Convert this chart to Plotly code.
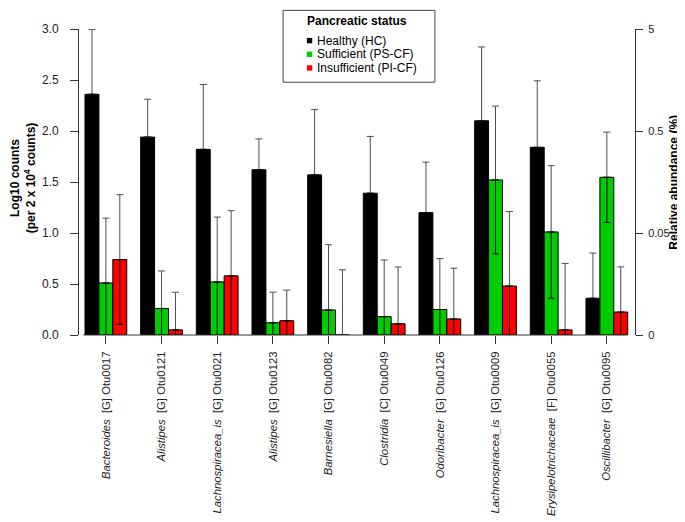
import plotly.graph_objects as go

# ---------------- data ----------------
taxa = ["Bacteroides", "Alistipes", "Lachnospiracea_is", "Alistipes", "Barnesiella",
        "Clostridia", "Odoribacter", "Lachnospiracea_is", "Erysipelotrichaceae", "Oscillibacter"]
ranks = ["G", "G", "G", "G", "G", "C", "G", "G", "F", "G"]
otu_ids = ["Otu0017", "Otu0121", "Otu0021", "Otu0123", "Otu0082",
           "Otu0049", "Otu0126", "Otu0009", "Otu0055", "Otu0095"]

healthy = [2.36, 1.94, 1.82, 1.62, 1.57, 1.39, 1.20, 2.10, 1.84, 0.36]
sufficient = [0.51, 0.26, 0.52, 0.12, 0.245, 0.18, 0.25, 1.52, 1.01, 1.546]
insufficient = [0.74, 0.05, 0.58, 0.14, 0.0, 0.11, 0.157, 0.48, 0.05, 0.225]

err_healthy = [0.636, 0.372, 0.636, 0.303, 0.64, 0.557, 0.495, 0.724, 0.652, 0.443]
err_sufficient = [0.636, 0.368, 0.636, 0.300, 0.64, 0.555, 0.499, 0.724, 0.650, 0.443]
err_insufficient = [0.636, 0.369, 0.639, 0.300, 0.639, 0.557, 0.498, 0.730, 0.652, 0.443]

series_names = ["Healthy (HC)", "Sufficient (PS-CF)", "Insufficient (PI-CF)"]
series_colors = ["#000000", "#00CD00", "#FF0000"]

left_ticks = [0.0, 0.5, 1.0, 1.5, 2.0, 2.5, 3.0]
right_tick_pos = [0, 1, 2, 3]
right_tick_labels = ["0", "0.05", "0.5", "5"]

group_index = list(range(len(otu_ids)))
tick_labels = [f"<i>{t}</i>\u00a0 [{r}] {o}" for t, r, o in zip(taxa, ranks, otu_ids)]

# ---------------- geometry helpers ----------------
W, H = 685, 522
L, R, T, B = 70.7, 627.3, 20.67, 327.33
BAR_W = 0.25
OFFSETS = [-BAR_W, 0.0, BAR_W]


def pxx(p):
    return (p - L) / (R - L)


def pxy(p):
    return (B - p) / (B - T)


FONT = "Liberation Sans, Arial, Helvetica, sans-serif"
ERR_UP_COLOR = "#4d4d4d"
ERR_DOWN_COLOR = "#000000"
AXIS_COLOR = "#333333"

fig = go.Figure()
for vals, errs, name, col, off in zip([healthy, sufficient, insufficient],
                                      [err_healthy, err_sufficient, err_insufficient],
                                      series_names, series_colors, OFFSETS):
    xs = [i + off for i in group_index]
    fig.add_trace(go.Bar(
        x=xs, y=vals, name=name, width=BAR_W,
        marker=dict(color=col, line=dict(color="#000000", width=1)),
        error_y=dict(type="data", symmetric=False, array=errs, arrayminus=[0] * len(errs),
                     visible=True, color=ERR_UP_COLOR, thickness=1, width=3.5),
        showlegend=False, cliponaxis=True,
    ))
    # lower half of the error bar (drawn over the bar itself)
    fig.add_trace(go.Scatter(
        x=xs, y=vals, mode="markers", marker=dict(opacity=0, size=1),
        error_y=dict(type="data", symmetric=False, array=[0] * len(errs), arrayminus=errs,
                     visible=True, color=ERR_DOWN_COLOR, thickness=1, width=3.5),
        showlegend=False, hoverinfo="skip", cliponaxis=True,
    ))

# invisible trace to anchor right axis
fig.add_trace(go.Scatter(x=[0], y=[0], yaxis="y2", mode="markers",
                         marker=dict(opacity=0), showlegend=False, hoverinfo="skip"))

shapes = []
annotations = []

# baseline under bars
shapes.append(dict(type="line", xref="x", yref="paper", x0=-0.405, x1=9.375, y0=0, y1=0,
                   line=dict(color=AXIS_COLOR, width=1), layer="above"))

# legend box
shapes.append(dict(type="rect", xref="paper", yref="paper",
                   x0=pxx(275), x1=pxx(427), y0=pxy(74), y1=pxy(2),
                   line=dict(color="#444444", width=1), fillcolor="white", layer="above"))
annotations.append(dict(xref="paper", yref="paper", x=pxx(349), y=pxy(12.7),
                        text="<b>Pancreatic status</b>", showarrow=False,
                        xanchor="center", yanchor="middle",
                        font=dict(family=FONT, size=12, color="#000000")))
item_y = [32.3, 46.0, 59.7]
for yy, name, col in zip(item_y, series_names, series_colors):
    shapes.append(dict(type="rect", xref="paper", yref="paper",
                       x0=pxx(298.8), x1=pxx(304.2), y0=pxy(yy + 2.7), y1=pxy(yy - 2.7),
                       line=dict(width=0), fillcolor=col, layer="above"))
    annotations.append(dict(xref="paper", yref="paper", x=pxx(307), y=pxy(yy),
                            text=name, showarrow=False, xanchor="left", yanchor="middle",
                            font=dict(family=FONT, size=12, color="#000000")))

# axis titles
annotations.append(dict(xref="paper", yref="paper", x=pxx(15), y=pxy(170),
                        text="<b>Log10 counts</b><br><b>(per 2 x 10<sup>4</sup> counts)</b>",
                        textangle=-90, showarrow=False, xanchor="center", yanchor="middle",
                        font=dict(family=FONT, size=12, color="#000000")))
annotations.append(dict(xref="paper", yref="paper", x=pxx(666), y=pxy(174),
                        text="<b>Relative abundance (%)</b>",
                        textangle=-90, showarrow=False, xanchor="center", yanchor="middle",
                        font=dict(family=FONT, size=12, color="#000000")))

fig.update_layout(
    width=W, height=H,
    margin=dict(l=L, r=W - R, t=T, b=H - B, pad=0, autoexpand=False),
    paper_bgcolor="white", plot_bgcolor="white",
    barmode="overlay",
    font=dict(family=FONT, size=12, color="#222222"),
    showlegend=False,
    xaxis=dict(range=[-0.483, 9.506], tickmode="array", tickvals=group_index, ticktext=tick_labels,
               tickangle=-90, ticks="outside", ticklen=8, tickcolor=AXIS_COLOR, tickwidth=1,
               showline=False, showgrid=False, zeroline=False, automargin=False,
               ticklabelstandoff=3, tickfont=dict(family=FONT, size=11.3, color="#222222")),
    yaxis=dict(range=[0, 3.0], tickmode="array", tickvals=left_ticks,
               ticktext=[f"{v:.1f}" for v in left_ticks],
               ticks="outside", ticklen=8, tickcolor=AXIS_COLOR, tickwidth=1,
               showline=True, linecolor=AXIS_COLOR, linewidth=1,
               showgrid=False, zeroline=False, automargin=False, ticklabelstandoff=9,
               tickfont=dict(family=FONT, size=12, color="#222222")),
    yaxis2=dict(overlaying="y", side="right", range=[0, 3.0], tickmode="array",
                tickvals=right_tick_pos, ticktext=right_tick_labels,
                ticks="outside", ticklen=7, tickcolor=AXIS_COLOR, tickwidth=1,
                showline=True, linecolor=AXIS_COLOR, linewidth=1,
                showgrid=False, zeroline=False, automargin=False, ticklabelstandoff=3,
                tickfont=dict(family=FONT, size=11, color="#222222")),
    shapes=shapes, annotations=annotations,
)

fig.write_html("out.html")
